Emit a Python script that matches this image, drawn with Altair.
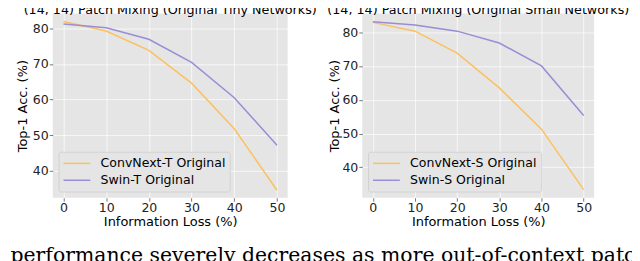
import altair as alt
import pandas as pd

# ---- data ----
loss = [0, 10, 20, 30, 40, 50]
convnext_t = [81.9, 79.2, 73.8, 64.6, 51.8, 34.6]
swin_t = [81.2, 80.1, 76.9, 70.4, 60.5, 47.2]
convnext_s = [82.9, 80.3, 73.8, 63.5, 51.3, 33.4]
swin_s = [83.1, 82.1, 80.3, 76.8, 70.0, 55.3]

names_tiny = ["ConvNext-T Original", "Swin-T Original"]
names_small = ["ConvNext-S Original", "Swin-S Original"]
title_tiny = "(14, 14) Patch Mixing (Original Tiny Networks)"
title_small = "(14, 14) Patch Mixing (Original Small Networks)"
x_title = "Information Loss (%)"
y_title = "Top-1 Acc. (%)"
x_ticks = [0, 10, 20, 30, 40, 50]
y_ticks = [40, 50, 60, 70, 80]
caption = "performance severely decreases as more out-of-context patches"

colors = ["#FBC15E", "#988ED5"]
FONT = "DejaVu Sans"


def make_df(names, a, b):
    rows = []
    for i, x in enumerate(loss):
        rows.append({"loss": x, "acc": a[i], "model": names[0]})
    for i, x in enumerate(loss):
        rows.append({"loss": x, "acc": b[i], "model": names[1]})
    return pd.DataFrame(rows)


def panel(df, names, title, ydom, width, ytitle_pad):
    return (
        alt.Chart(
            df,
            title=alt.TitleParams(
                title, fontSize=12.8, font=FONT, fontWeight="normal", color="#000000",
                anchor="middle", frame="group", offset=-3,
            ),
        )
        .mark_line(strokeWidth=1.5)
        .encode(
            x=alt.X("loss:Q",
                    scale=alt.Scale(domain=[-2.5, 52.5], nice=False, zero=False),
                    axis=alt.Axis(values=x_ticks, title=x_title, format="d")),
            y=alt.Y("acc:Q",
                    scale=alt.Scale(domain=ydom, nice=False, zero=False),
                    axis=alt.Axis(values=y_ticks, title=y_title, format="d",
                                  titlePadding=ytitle_pad)),
            color=alt.Color(
                "model:N",
                scale=alt.Scale(domain=names, range=colors),
                sort=names,
                legend=alt.Legend(
                    title=None, orient="bottom-left", offset=6,
                    fillColor="#E5E5E5", strokeColor="#CCCCCC",
                    cornerRadius=2, padding=4,
                    symbolType="M-1,0H3", symbolSize=182, symbolStrokeWidth=1.5,
                    labelFont=FONT, labelFontSize=12.6, labelColor="#000000",
                    labelOffset=23, rowPadding=2,
                ),
            ),
        )
        .properties(width=width, height=185)
    )


left = panel(make_df(names_tiny, convnext_t, swin_t), names_tiny, title_tiny,
             [32.5, 84.1], 236, 3)
right = panel(make_df(names_small, convnext_s, swin_s), names_small, title_small,
              [31.0, 85.5], 233, 0)

chart = (
    alt.hconcat(left, right, spacing=75, bounds="flush")
    .resolve_scale(color="independent")
    .resolve_legend(color="independent")
    .properties(
        title=alt.TitleParams(
            caption, orient="bottom", anchor="start", font="DejaVu Serif",
            fontSize=20.5, fontWeight="normal", color="#000000", offset=18, dx=-6,
        ),
        padding={"top": -5, "left": 2, "right": -40, "bottom": -6},
    )
    .configure_view(fill="#E5E5E5", stroke=None)
    .configure_axis(
        domain=False, grid=True, gridColor="#FFFFFF", gridWidth=0.8, gridOpacity=0.85,
        tickColor="#555555", tickSize=3.5, tickWidth=0.8,
        labelFont=FONT, labelFontSize=12.6, labelColor="#222222", labelPadding=1,
        titleFont=FONT, titleFontSize=13, titleFontWeight="normal", titleColor="#000000",
    )
    .configure_axisX(titlePadding=1.5, labelPadding=0)
    .configure_legend(strokeWidth=0.8)
)

chart.save("out.html", embed_options={"renderer": "svg", "actions": False})
